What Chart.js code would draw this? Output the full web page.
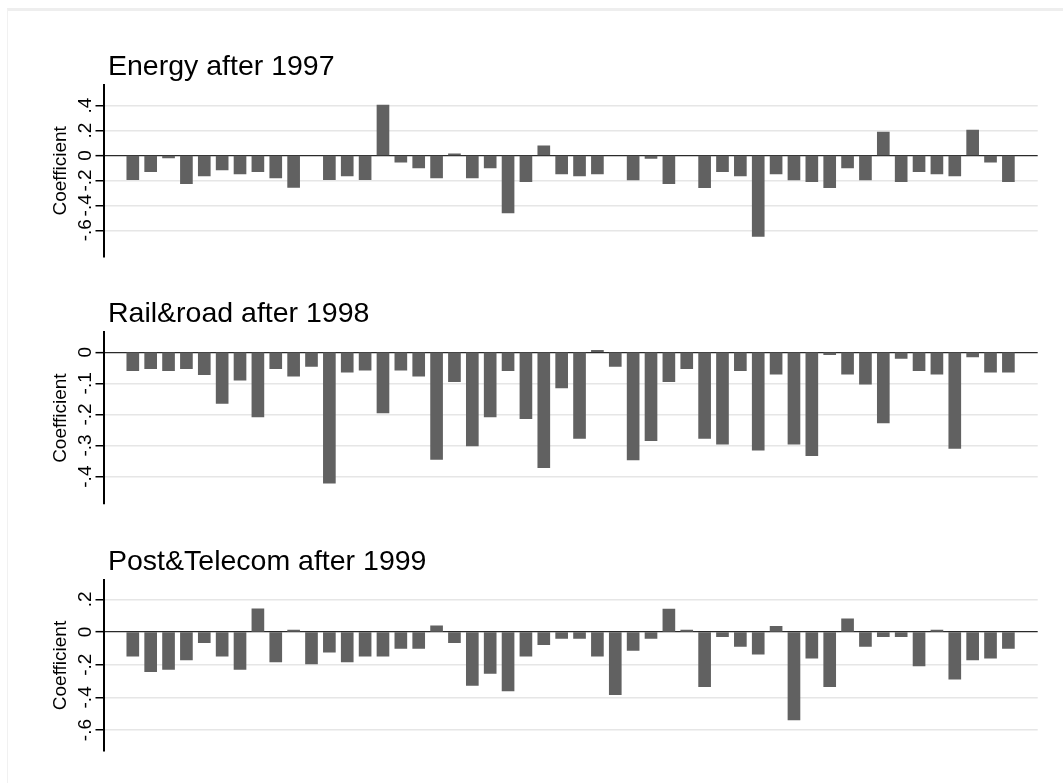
<!DOCTYPE html>
<html>
<head>
<meta charset="utf-8">
<script src="https://cdn.jsdelivr.net/npm/chart.js@4.4.1/dist/chart.umd.min.js"></script>
<style>
html,body{margin:0;padding:0;background:#ffffff;}
body{width:1063px;height:783px;position:relative;overflow:hidden;}
#frame{position:absolute;left:7px;top:8px;right:0;bottom:0;border-top:3px solid #eeeeee;border-left:1px solid #f1f1f1;}
canvas{position:absolute;left:0;}
</style>
</head>
<body>
<div id="frame"></div>
<canvas id="c1" width="1063" height="230" style="top:40px"></canvas>
<canvas id="c2" width="1063" height="230" style="top:287px"></canvas>
<canvas id="c3" width="1063" height="230" style="top:535px"></canvas>
<script>
// ---------------- data ----------------
const categories = [1,2,3,4,5,6,7,8,9,10,11,12,13,14,15,16,17,18,19,20,21,22,23,24,25,
                    26,27,28,29,30,31,32,33,34,35,36,37,38,39,40,41,42,43,44,45,46,47,48,49,50];

const panelTitles = ['Energy after 1997', 'Rail&road after 1998', 'Post&Telecom after 1999'];
const axisTitle = 'Coefficient';

const energyValues = [-0.193,-0.130,-0.020,-0.225,-0.164,-0.115,-0.148,-0.130,-0.180,-0.255,
                      null,-0.193,-0.164,-0.193,0.405,-0.054,-0.100,-0.180,0.013,-0.180,
                      -0.100,-0.460,-0.210,0.078,-0.148,-0.164,-0.148,null,-0.196,-0.024,
                      -0.225,null,-0.258,-0.130,-0.164,-0.650,-0.148,-0.196,-0.210,-0.258,
                      -0.100,-0.196,0.188,-0.210,-0.130,-0.148,-0.164,0.204,-0.054,-0.210];

const railRoadValues = [-0.059,-0.053,-0.059,-0.053,-0.072,-0.165,-0.090,-0.208,-0.053,-0.077,
                        -0.046,-0.421,-0.064,-0.058,-0.195,-0.058,-0.077,-0.345,-0.095,-0.301,
                        -0.208,-0.059,-0.214,-0.371,-0.115,-0.277,0.006,-0.046,-0.346,-0.284,
                        -0.095,-0.053,-0.277,-0.296,-0.059,-0.315,-0.071,-0.296,-0.333,-0.008,
                        -0.071,-0.103,-0.227,-0.020,-0.059,-0.071,-0.309,-0.015,-0.064,-0.064];

const postTelecomValues = [-0.148,-0.242,-0.229,-0.171,-0.065,-0.148,-0.229,0.142,-0.183,0.012,
                           -0.195,-0.124,-0.183,-0.148,-0.148,-0.100,-0.100,0.037,-0.065,-0.327,
                           -0.254,-0.360,-0.148,-0.077,-0.040,-0.040,-0.148,-0.384,-0.112,-0.040,
                           0.140,0.012,-0.335,-0.028,-0.089,-0.136,0.035,-0.538,-0.160,-0.335,
                           0.081,-0.089,-0.028,-0.028,-0.207,0.012,-0.288,-0.171,-0.160,-0.100];

const energyTicks = [0.4, 0.2, 0, -0.2, -0.4, -0.6];
const energyTickLabels = ['.4', '.2', '0', '-.2', '-.4', '-.6'];
const railRoadTicks = [0, -0.1, -0.2, -0.3, -0.4];
const railRoadTickLabels = ['0', '-.1', '-.2', '-.3', '-.4'];
const postTelecomTicks = [0.2, 0, -0.2, -0.4, -0.6];
const postTelecomTickLabels = ['.2', '0', '-.2', '-.4', '-.6'];

const energyRange = [-0.812, 0.566];
const railRoadRange = [-0.488, 0.064];
const postTelecomRange = [-0.728, 0.318];

// ---------------- chart ----------------
const FONT = '"Liberation Sans", Arial, Helvetica, sans-serif';
Chart.defaults.font.family = FONT;
Chart.defaults.color = '#000000';

const AXIS_RIGHT = 103.5;     // x position of the y axis (chart area left)
const CHART_RIGHT_PAD = 25.3; // space right of the plot
const SIDE_PAD = 1.64;        // category units of empty space at each end
const TITLE_SHIFT = 4.5;      // title inset from the axis

const titleInset = {
  id: 'titleInset',
  afterLayout(chart) {
    const t = chart.titleBlock;
    if (t) { t.left += TITLE_SHIFT; t.right += TITLE_SHIFT; }
  }
};

function makePanel(id, title, values, tickVals, tickLabels, range, titlePadTop, padBottom) {
  const data = categories
    .map((c, i) => ({x: c, y: values[i]}))
    .filter(d => d.y !== null);
  return new Chart(document.getElementById(id), {
    type: 'bar',
    data: {
      datasets: [{
        data: data,
        backgroundColor: '#616161',
        borderWidth: 0,
        barThickness: 12
      }]
    },
    plugins: [titleInset],
    options: {
      responsive: false,
      animation: false,
      events: [],
      layout: {padding: {left: 0, right: CHART_RIGHT_PAD, top: 0, bottom: padBottom}},
      plugins: {
        legend: {display: false},
        tooltip: {enabled: false},
        title: {
          display: true,
          text: title,
          align: 'start',
          fullSize: false,
          color: '#000000',
          font: {size: 28.5, weight: 'normal', lineHeight: 1.2},
          padding: {top: titlePadTop, bottom: 1}
        }
      },
      scales: {
        x: {
          type: 'linear',
          display: false,
          offset: false,
          min: categories[0] - SIDE_PAD,
          max: categories[categories.length - 1] + SIDE_PAD,
          grid: {display: false, offset: false}
        },
        y: {
          type: 'linear',
          position: 'left',
          min: range[0],
          max: range[1],
          afterBuildTicks: (scale) => { scale.ticks = tickVals.map(v => ({value: v})); },
          afterFit: (scale) => { scale.width = AXIS_RIGHT; },
          ticks: {
            callback: (value, index) => tickLabels[index],
            minRotation: 90,
            maxRotation: 90,
            crossAlign: 'center',
            padding: -1,
            color: '#000000',
            font: {size: 19}
          },
          title: {
            display: true,
            text: axisTitle,
            color: '#000000',
            font: {size: 19, lineHeight: 1.2},
            padding: {top: 49.3, bottom: 0}
          },
          border: {display: true, color: '#000000', width: 2},
          grid: {
            color: (ctx) => (ctx.tick && ctx.tick.value === 0) ? '#2a2a2a' : '#e6e6e6',
            lineWidth: (ctx) => (ctx.tick && ctx.tick.value === 0) ? 1.3 : 1.5,
            drawTicks: true,
            tickLength: 8,
            tickColor: '#000000',
            tickWidth: 1.5
          }
        }
      }
    }
  });
}

makePanel('c1', panelTitles[0], energyValues, energyTicks, energyTickLabels, energyRange, 9.8, 13.3);
makePanel('c2', panelTitles[1], railRoadValues, railRoadTicks, railRoadTickLabels, railRoadRange, 10.1, 13);
makePanel('c3', panelTitles[2], postTelecomValues, postTelecomTicks, postTelecomTickLabels, postTelecomRange, 9.8, 14);
</script>
</body>
</html>
